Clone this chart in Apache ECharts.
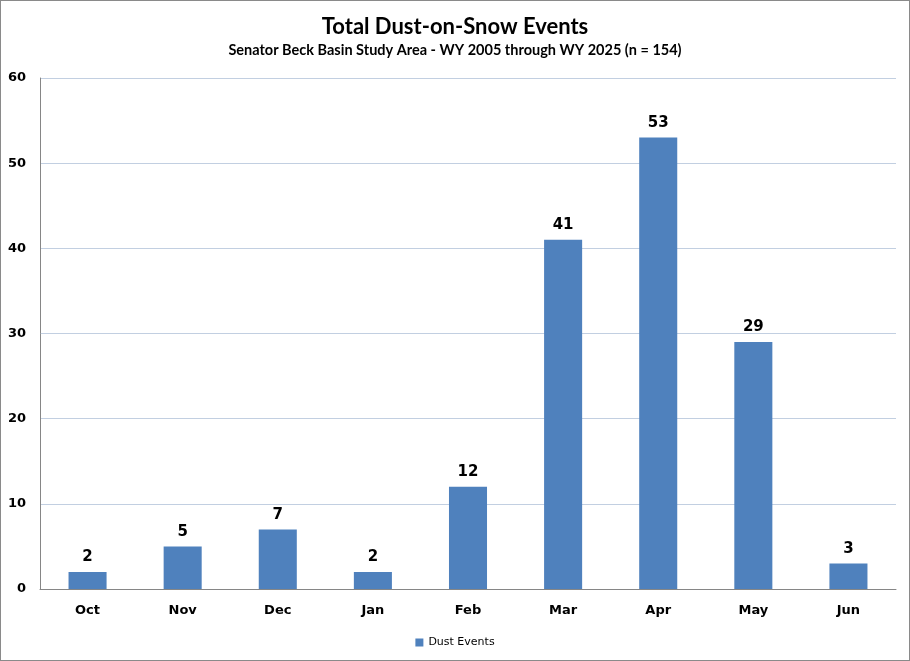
<!DOCTYPE html>
<html><head><meta charset="utf-8">
<script src="https://cdn.jsdelivr.net/npm/echarts@6/dist/echarts.min.js"></script>
<style>html,body{margin:0;padding:0;background:#fff}#c{width:910px;height:661px;box-sizing:border-box;border:1px solid #8a8a8a}</style>
</head><body><div id="c"></div>
<script>
const categories = ['Oct','Nov','Dec','Jan','Feb','Mar','Apr','May','Jun'];
const dustEvents = [2,5,7,2,12,41,53,29,3];
const seriesName = 'Dust Events';
const titleText = 'Total Dust-on-Snow Events';
const subtitleText = 'Senator Beck Basin Study Area - WY 2005 through WY 2025 (n = 154)';

const chart = echarts.init(document.getElementById('c'), null, {renderer:'canvas'});
chart.setOption({
  animation:false,
  title:{text:titleText, subtext:subtitleText, left:'center', top:10, itemGap:5,
    textStyle:{fontFamily:'Lato', fontWeight:'bold', fontSize:22, color:'#000'},
    subtextStyle:{fontFamily:'Lato', fontWeight:'bold', fontSize:14.5, color:'#000'}},
  legend:{bottom:7, left:'center', itemWidth:8, itemHeight:8, icon:'rect',
    textStyle:{fontFamily:'DejaVu Sans', fontSize:11, color:'#000'}},
  grid:{left:39, right:13, top:77, bottom:71, containLabel:false},
  xAxis:{type:'category', data:categories,
    axisLine:{lineStyle:{color:'#868686', width:1}}, axisTick:{show:false},
    axisLabel:{fontFamily:'DejaVu Sans', fontWeight:'bold', fontSize:13, color:'#000', margin:15}},
  yAxis:{type:'value', min:0, max:60, interval:10,
    axisLine:{show:true, lineStyle:{color:'#868686'}}, axisTick:{show:false},
    splitLine:{lineStyle:{color:'#C2CFE1'}},
    axisLabel:{fontFamily:'DejaVu Sans', fontWeight:'bold', fontSize:13, color:'#000', margin:14}},
  series:[{name:seriesName, type:'bar', data:dustEvents, barWidth:'40%',
    itemStyle:{color:'#4F81BD'},
    label:{show:true, position:'top', distance:7, fontFamily:'DejaVu Sans', fontWeight:'bold', fontSize:15, color:'#000'}}]
});
</script></body></html>
